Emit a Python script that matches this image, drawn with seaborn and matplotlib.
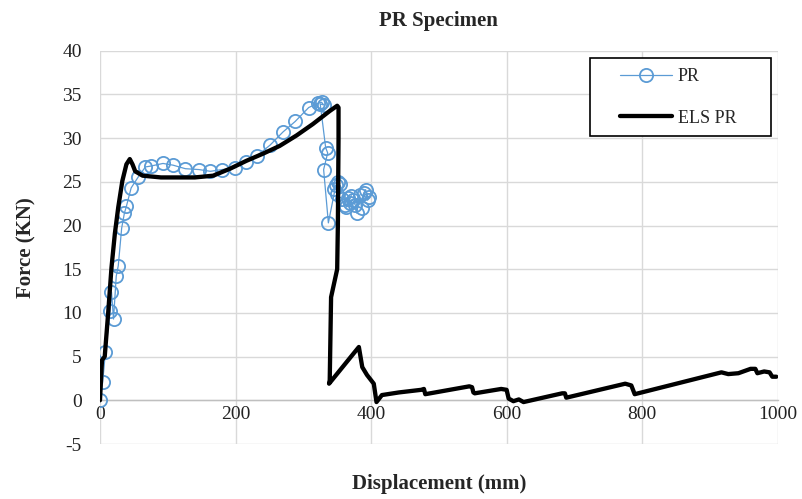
import matplotlib
matplotlib.use("Agg")
import matplotlib.pyplot as plt
from matplotlib.patches import Rectangle
import seaborn as sns
import pandas as pd

# PR test data (open circles)
pr_x = [0, 4, 8, 15, 17, 20, 24, 27, 32, 36, 39, 46, 56, 67, 75, 93, 108, 126, 146, 163, 180,
        199, 215, 232, 251, 270, 288, 308, 322, 327, 330, 325, 333, 336, 330, 337,
        348, 351, 346, 354, 350, 357, 361, 366, 369, 373, 377, 379, 383, 386, 389, 392, 395, 397, 363, 371]
pr_y = [0, 2.1, 5.5, 10.2, 12.4, 9.3, 14.2, 15.4, 19.7, 21.4, 22.2, 24.3, 25.5, 26.7, 26.8, 27.1, 26.9, 26.5, 26.4, 26.2, 26.4,
        26.6, 27.3, 28.0, 29.2, 30.7, 31.9, 33.5, 34.0, 34.1, 33.8, 33.9, 28.9, 28.3, 26.4, 20.3,
        24.6, 25.0, 24.2, 24.8, 23.6, 23.0, 22.4, 23.2, 22.6, 22.9, 22.3, 21.4, 23.5, 22.0, 23.7, 24.1, 22.9, 23.3, 22.1, 23.4]

# ELS PR model curve (thick black)
els_x = [0, 3, 7, 12, 17, 22, 27, 33, 39, 44, 48, 52, 63, 90, 140, 167, 192, 216, 240, 265, 290, 314, 339,
         350, 352, 352, 351, 350, 341, 339, 338, 382, 387, 394, 404, 408, 416, 441, 474, 478, 480,
         545, 549, 551, 553, 592, 600, 603, 610, 618, 625, 682, 686, 688, 775, 784, 789,
         917, 927, 942, 960, 967, 970, 980, 988, 992, 998]
els_y = [0, 4.6, 5.0, 9.9, 15.2, 19.1, 22.1, 25.1, 27.0, 27.6, 27.0, 26.2, 25.7, 25.5, 25.5, 25.7, 26.5, 27.4, 28.2, 29.1, 30.3, 31.6, 33.1,
         33.7, 33.5, 30.0, 20.0, 15.0, 11.8, 2.3, 1.9, 6.1, 3.8, 2.9, 1.9, -0.2, 0.6, 0.9, 1.2, 1.3, 0.7,
         1.6, 1.5, 0.9, 0.8, 1.3, 1.2, 0.2, -0.1, 0.1, -0.2, 0.8, 0.8, 0.3, 1.9, 1.7, 0.7,
         3.2, 3.0, 3.1, 3.6, 3.6, 3.1, 3.3, 3.2, 2.7, 2.7]

x_ticks = [0, 200, 400, 600, 800, 1000]
y_ticks = [-5, 0, 5, 10, 15, 20, 25, 30, 35, 40]

sns.set_theme(style="white")
plt.rcParams['font.family'] = ['Liberation Serif', 'DejaVu Serif']

fig = plt.figure(figsize=(8.03, 4.99), dpi=100)
ax = fig.add_axes([0.1245, 0.1102, 0.8440, 0.7882])

for s in ["top", "right", "left"]:
    ax.spines[s].set_visible(False)
ax.spines["bottom"].set_position(("data", 0))
ax.spines["bottom"].set_color("#bfbfbf")
ax.spines["bottom"].set_linewidth(1.0)

pr_df = pd.DataFrame({"x": pr_x, "y": pr_y})
els_df = pd.DataFrame({"x": els_x, "y": els_y})

sns.lineplot(data=pr_df, x="x", y="y", sort=False, estimator=None, ax=ax,
             color="#5b9bd5", linewidth=0.9, marker="o", markersize=9.5,
             markerfacecolor="none", markeredgecolor="#5b9bd5", markeredgewidth=1.3,
             label="PR", zorder=3)
sns.lineplot(data=els_df, x="x", y="y", sort=False, estimator=None, ax=ax,
             color="black", linewidth=3.1, label="ELS PR", zorder=4)

ax.set_xlim(0, 1000)
ax.set_ylim(-5, 40)
ax.set_xticks(x_ticks)
ax.set_yticks(y_ticks)
ax.set_xticklabels([str(v) for v in x_ticks])
ax.set_yticklabels([str(v) for v in y_ticks])
ax.tick_params(axis="both", length=0, labelsize=14, labelcolor="#222222")
ax.tick_params(axis="y", pad=13)
ax.tick_params(axis="x", pad=4)
ax.grid(True, color="#d9d9d9", linewidth=1.0)
ax.set_axisbelow(True)

ax.set_title("PR Specimen", fontsize=15, fontweight="bold", pad=18)
ax.set_xlabel("Displacement (mm)", fontsize=15, fontweight="bold")
ax.set_ylabel("Force (KN)", fontsize=15, fontweight="bold")
ax.xaxis.set_label_coords(0.5, -0.075)
ax.yaxis.set_label_coords(-0.093, 0.5)

# legend frame drawn separately so entries can sit centred in the box
frame = Rectangle((0.723, 0.783), 0.267, 0.198, transform=ax.transAxes,
                  facecolor="white", edgecolor="black", linewidth=1.2, zorder=5)
ax.add_patch(frame)
leg = ax.legend(loc="upper left", bbox_to_anchor=(0.767, 0.955),
                fontsize=13, frameon=False, handlelength=2.9,
                labelspacing=1.35, borderpad=0, handletextpad=0.3, borderaxespad=0)
leg.set_zorder(6)

fig.savefig("out.png", dpi=100)
